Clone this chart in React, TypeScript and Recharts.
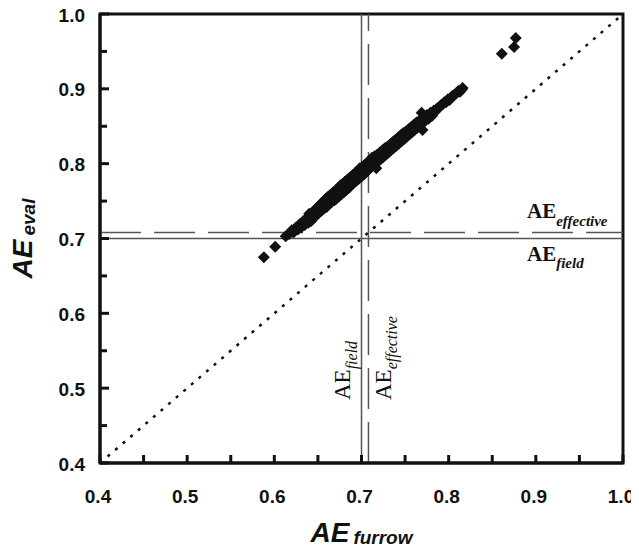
import React from 'react';
import { ScatterChart, Scatter, XAxis, YAxis, ReferenceLine, ReferenceArea } from 'recharts';

const aeFurrow = [
  0.588, 0.601, 0.613, 0.617, 0.620, 0.622, 0.625, 0.627, 0.629, 0.631, 0.633, 0.635, 0.637, 0.639,
  0.640, 0.642, 0.644, 0.645, 0.647, 0.648, 0.650, 0.651, 0.653, 0.654, 0.656, 0.657, 0.659, 0.660,
  0.661, 0.663, 0.664, 0.666, 0.667, 0.669, 0.670, 0.671, 0.673, 0.674, 0.676, 0.677, 0.679, 0.680,
  0.681, 0.683, 0.684, 0.686, 0.687, 0.688, 0.690, 0.691, 0.693, 0.694, 0.696, 0.697, 0.698, 0.700,
  0.701, 0.703, 0.704, 0.705, 0.707, 0.708, 0.710, 0.711, 0.712, 0.714, 0.715, 0.717, 0.718, 0.719,
  0.721, 0.722, 0.724, 0.725, 0.727, 0.728, 0.730, 0.731, 0.733, 0.734, 0.736, 0.737, 0.739, 0.740,
  0.742, 0.743, 0.745, 0.746, 0.748, 0.749, 0.751, 0.752, 0.754, 0.755, 0.757, 0.758, 0.760, 0.761,
  0.763, 0.764, 0.766, 0.767, 0.769, 0.770, 0.772, 0.773, 0.775, 0.777, 0.779, 0.781, 0.783, 0.785,
  0.787, 0.789, 0.791, 0.793, 0.795, 0.797, 0.799, 0.801, 0.803, 0.805, 0.807, 0.809, 0.811, 0.813,
  0.815, 0.816,
];
const aeEval = [
  0.675, 0.689, 0.703, 0.706, 0.711, 0.708, 0.715, 0.712, 0.719, 0.715, 0.723, 0.718, 0.727, 0.721,
  0.733, 0.723, 0.735, 0.727, 0.739, 0.731, 0.742, 0.734, 0.746, 0.737, 0.749, 0.740, 0.753, 0.742,
  0.755, 0.746, 0.758, 0.749, 0.761, 0.751, 0.764, 0.753, 0.767, 0.756, 0.771, 0.759, 0.773, 0.762,
  0.776, 0.765, 0.779, 0.768, 0.782, 0.771, 0.785, 0.774, 0.788, 0.777, 0.791, 0.780, 0.794, 0.783,
  0.796, 0.786, 0.799, 0.789, 0.802, 0.792, 0.805, 0.795, 0.808, 0.798, 0.810, 0.794, 0.812, 0.803,
  0.815, 0.806, 0.818, 0.809, 0.821, 0.812, 0.823, 0.815, 0.826, 0.818, 0.829, 0.821, 0.832, 0.824,
  0.835, 0.827, 0.838, 0.830, 0.841, 0.833, 0.843, 0.836, 0.846, 0.839, 0.849, 0.842, 0.852, 0.845,
  0.855, 0.848, 0.857, 0.851, 0.868, 0.845, 0.862, 0.857, 0.865, 0.860, 0.868, 0.864, 0.871, 0.870,
  0.874, 0.875, 0.878, 0.879, 0.882, 0.882, 0.886, 0.885, 0.889, 0.891, 0.892, 0.894, 0.897, 0.896,
  0.899, 0.901,
];
const outlierFurrow = [0.861, 0.875, 0.877];
const outlierEval = [0.947, 0.956, 0.968];

const axisTicks = [0.4, 0.45, 0.5, 0.55, 0.6, 0.65, 0.7, 0.75, 0.8, 0.85, 0.9, 0.95, 1.0];
const aeField = 0.7;
const aeEffective = 0.708;
const oneToOne = [0.4, 1.0];

const points = aeFurrow
  .map((x, i) => ({ x, y: aeEval[i] }))
  .concat(outlierFurrow.map((x, i) => ({ x, y: outlierEval[i] })));

const SANS = '"Liberation Sans", Arial, Helvetica, sans-serif';
const SERIF = '"Liberation Serif", "Times New Roman", serif';

const isMajor = (v: number) => Math.round(v * 100) % 10 === 0;

const Diamond = (props: any) => {
  const { cx, cy } = props;
  if (cx == null || cy == null) return null;
  const r = 6;
  return (
    <polygon
      points={`${cx},${cy - r} ${cx + r},${cy} ${cx},${cy + r} ${cx - r},${cy}`}
      fill="#111"
    />
  );
};

const YTick = (props: any) => {
  const { x, y, payload } = props;
  const v = payload.value;
  const axisX = x + 15;
  const len = isMajor(v) ? 9 : 7;
  return (
    <g>
      <line x1={axisX} x2={axisX + len} y1={y} y2={y} stroke="#111" strokeWidth={3} />
      {isMajor(v) && (
        <text x={x} y={y + 1} textAnchor="end" dominantBaseline="central" fontFamily={SANS} fontWeight="bold" fontSize={19} fill="#111">
          {v.toFixed(1)}
        </text>
      )}
    </g>
  );
};

const XTick = (props: any) => {
  const { x, y, payload } = props;
  const v = payload.value;
  const axisY = y - 33;
  return (
    <g>
      <line x1={x} x2={x} y1={axisY} y2={axisY - 8} stroke="#111" strokeWidth={3} />
      {isMajor(v) && (
        <text x={x - 2} y={y} textAnchor="middle" dominantBaseline="central" fontFamily={SANS} fontWeight="bold" fontSize={19} fill="#111">
          {v.toFixed(1)}
        </text>
      )}
    </g>
  );
};

const XLabel = (props: any) => {
  const vb = props.viewBox;
  return (
    <text x={vb.x + vb.width / 2} y={vb.y + 79} textAnchor="middle" fontFamily={SANS} fontWeight="bold" fontStyle="italic" fill="#111">
      <tspan fontSize={28}>AE</tspan>
      <tspan fontSize={19} dx={4} dy={2}>furrow</tspan>
    </text>
  );
};

const YLabel = (props: any) => {
  const vb = props.viewBox;
  const cx = vb.x + 32;
  const cy = vb.y + vb.height / 2;
  return (
    <text x={cx} y={cy} transform={`rotate(-90, ${cx}, ${cy})`} textAnchor="middle" fontFamily={SANS} fontWeight="bold" fontStyle="italic" fill="#111">
      <tspan fontSize={28}>AE</tspan>
      <tspan fontSize={19} dx={4} dy={3}>eval</tspan>
    </text>
  );
};

const HLabelEffective = (props: any) => {
  const vb = props.viewBox;
  return (
    <text x={vb.x + vb.width - 96} y={vb.y - 15} fontFamily={SERIF} fontWeight="bold" fill="#111">
      <tspan fontSize={21}>AE</tspan>
      <tspan fontSize={15} fontStyle="italic" dy={8}>effective</tspan>
    </text>
  );
};

const HLabelField = (props: any) => {
  const vb = props.viewBox;
  return (
    <text x={vb.x + vb.width - 96} y={vb.y + 22} fontFamily={SERIF} fontWeight="bold" fill="#111">
      <tspan fontSize={21}>AE</tspan>
      <tspan fontSize={15} fontStyle="italic" dy={7}>field</tspan>
    </text>
  );
};

const VLabelField = (props: any) => {
  const vb = props.viewBox;
  const tx = vb.x - 12;
  const ty = vb.y + vb.height - 63;
  return (
    <text x={tx} y={ty} transform={`rotate(-90, ${tx}, ${ty})`} fontFamily={SERIF} fill="#111">
      <tspan fontSize={23}>AE</tspan>
      <tspan fontSize={16} fontStyle="italic" dy={7}>field</tspan>
    </text>
  );
};

const VLabelEffective = (props: any) => {
  const vb = props.viewBox;
  const tx = vb.x + 23;
  const ty = vb.y + vb.height - 63;
  return (
    <text x={tx} y={ty} transform={`rotate(-90, ${tx}, ${ty})`} fontFamily={SERIF} fill="#111">
      <tspan fontSize={23}>AE</tspan>
      <tspan fontSize={16} fontStyle="italic" dy={6}>effective</tspan>
    </text>
  );
};

export default function App() {
  return (
    <div style={{ width: 639, height: 549, margin: '-8px 0 0 -8px' }}>
      <ScatterChart width={639} height={549} margin={{ top: 14, right: 16, left: 0, bottom: 0 }}>
        <XAxis
          type="number"
          dataKey="x"
          domain={[0.4, 1.0]}
          ticks={axisTicks}
          interval={0}
          height={86}
          tickSize={0}
          tickMargin={33}
          tickLine={false}
          axisLine={{ stroke: '#111', strokeWidth: 3 }}
          tick={<XTick />}
          label={<XLabel />}
        />
        <YAxis
          type="number"
          dataKey="y"
          domain={[0.4, 1.0]}
          ticks={axisTicks}
          interval={0}
          width={100}
          tickSize={0}
          tickMargin={15}
          tickLine={false}
          axisLine={{ stroke: '#111', strokeWidth: 3 }}
          tick={<YTick />}
          label={<YLabel />}
        />
        <ReferenceArea x1={0.4} x2={1.0} y1={0.4} y2={1.0} fill="none" stroke="#111" strokeWidth={3} fillOpacity={0} />
        <ReferenceLine
          segment={[{ x: oneToOne[0], y: oneToOne[0] }, { x: oneToOne[1], y: oneToOne[1] }]}
          stroke="#111"
          strokeWidth={2.5}
          strokeDasharray="3 7"
        />
        <ReferenceLine x={aeField} stroke="#555" strokeWidth={1.5} label={<VLabelField />} />
        <ReferenceLine x={aeEffective} stroke="#555" strokeWidth={1.5} strokeDasharray="41 13" label={<VLabelEffective />} />
        <ReferenceLine y={aeField} stroke="#555" strokeWidth={1.5} label={<HLabelField />} />
        <ReferenceLine y={aeEffective} stroke="#555" strokeWidth={1.5} strokeDasharray="41 13" label={<HLabelEffective />} />
        <Scatter data={points} shape={<Diamond />} isAnimationActive={false} />
      </ScatterChart>
    </div>
  );
}
